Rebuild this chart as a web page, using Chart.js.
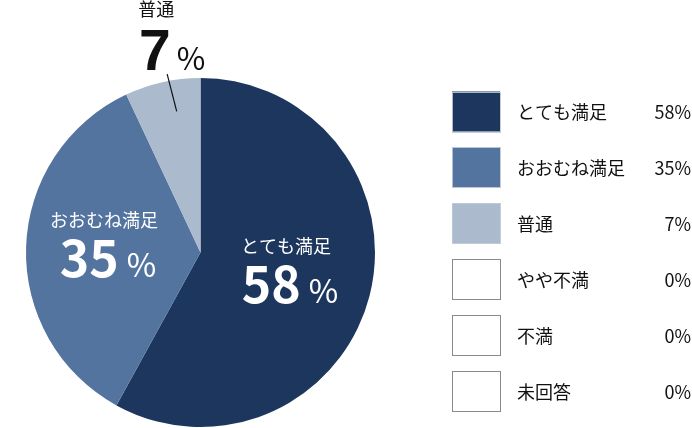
<!DOCTYPE html>
<html lang="ja">
<head>
<meta charset="utf-8">
<script src="https://cdn.jsdelivr.net/npm/chart.js@4"></script>
<style>
  html, body { margin: 0; padding: 0; background: #fff; }
  #wrap { width: 692px; height: 428px; }
</style>
</head>
<body>
<div id="wrap"><canvas id="pie" width="692" height="428"></canvas></div>
<script>
const CATEGORIES = ['とても満足', 'おおむね満足', '普通', 'やや不満', '不満', '未回答'];
const VALUES = [58, 35, 7, 0, 0, 0];
const COLORS = ['#1d365e', '#5474a0', '#abbacd', '#ffffff', '#ffffff', '#ffffff'];

const FONT = '"Noto Sans CJK JP", "Noto Sans", sans-serif';
const NUM_FONT_IN = `bold 50px ${FONT}`;
const NUM_FONT_OUT = `bold 57px "Liberation Sans", Arial, sans-serif`;

// ラベルの置き方 (スライス内 or 外)
const LABEL_STYLE = [
  { inside: true },
  { inside: true },
  { inside: false },
];

const polar = (arc, angle, f) => ({
  x: arc.x + Math.cos(angle) * arc.outerRadius * f,
  y: arc.y + Math.sin(angle) * arc.outerRadius * f,
});

const drawValueRow = (ctx, cx, baseY, value, numFont, pctSize, gap, color) => {
  const num = String(value);
  ctx.fillStyle = color;
  ctx.textBaseline = 'alphabetic';
  ctx.textAlign = 'left';
  ctx.font = numFont;
  const wNum = ctx.measureText(num).width;
  ctx.font = `${pctSize}px ${FONT}`;
  const wPct = ctx.measureText('%').width;
  const start = cx - (wNum + gap + wPct) / 2;
  ctx.font = numFont;
  ctx.fillText(num, start, baseY);
  ctx.font = `${pctSize}px ${FONT}`;
  ctx.fillText('%', start + wNum + gap, baseY);
};

const sliceLabels = {
  id: 'sliceLabels',
  afterDatasetsDraw(chart) {
    const ctx = chart.ctx;
    const arcs = chart.getDatasetMeta(0).data;
    ctx.save();
    arcs.forEach((arc, i) => {
      const v = VALUES[i];
      if (!v || !LABEL_STYLE[i]) return;
      const p = arc.getProps(['x', 'y', 'startAngle', 'endAngle', 'outerRadius'], true);
      const span = p.endAngle - p.startAngle;
      if (LABEL_STYLE[i].inside) {
        const c = polar(p, p.startAngle + span / 2, 0.53);
        ctx.fillStyle = '#fff';
        ctx.font = `18px ${FONT}`;
        ctx.textAlign = 'center';
        ctx.textBaseline = 'alphabetic';
        ctx.fillText(CATEGORIES[i], c.x - 4, c.y - 23);
        drawValueRow(ctx, c.x, c.y + 27, v, NUM_FONT_IN, 32, 8, '#fff');
      } else {
        const a = polar(p, p.startAngle + span * 0.62, 0.82);
        const b = polar(p, p.startAngle + span * 0.58, 1.04);
        ctx.strokeStyle = '#111';
        ctx.lineWidth = 1.2;
        ctx.beginPath();
        ctx.moveTo(a.x, a.y);
        ctx.lineTo(b.x, b.y);
        ctx.stroke();
        drawValueRow(ctx, b.x + 5, b.y - 4, v, NUM_FONT_OUT, 31, 6, '#111');
        ctx.fillStyle = '#111';
        ctx.font = `18px ${FONT}`;
        ctx.textAlign = 'center';
        ctx.fillText(CATEGORIES[i], b.x - 11, b.y - 58);
      }
    });
    ctx.restore();
  },
};

const sideLegend = {
  id: 'sideLegend',
  afterDraw(chart) {
    const ctx = chart.ctx;
    const boxX = 452, boxW = 48, boxH = 40, top = 111.5, step = 55.9;
    ctx.save();
    CATEGORIES.forEach((label, i) => {
      const cy = top + i * step;
      ctx.fillStyle = COLORS[i];
      ctx.fillRect(boxX, cy - boxH / 2, boxW, boxH);
      ctx.strokeStyle = VALUES[i] ? 'rgba(190,200,215,0.9)' : '#8a8a8a';
      ctx.lineWidth = 1;
      ctx.strokeRect(boxX + 0.5, Math.round(cy - boxH / 2) + 0.5, boxW, boxH);
      ctx.fillStyle = '#111';
      ctx.font = `18px ${FONT}`;
      ctx.textBaseline = 'middle';
      ctx.textAlign = 'left';
      ctx.fillText(label, 517, cy + 1);
      ctx.textAlign = 'right';
      ctx.fillText(VALUES[i] + '%', 691, cy + 1);
    });
    ctx.restore();
  },
};

new Chart(document.getElementById('pie'), {
  type: 'pie',
  data: {
    labels: CATEGORIES,
    datasets: [{
      data: VALUES,
      backgroundColor: COLORS,
      borderWidth: 0,
    }],
  },
  options: {
    responsive: false,
    animation: false,
    devicePixelRatio: 1,
    layout: { padding: { left: 26, right: 317, top: 78, bottom: 1 } },
    plugins: {
      legend: { display: false },
      tooltip: { enabled: false },
    },
  },
  plugins: [sliceLabels, sideLegend],
});
</script>
</body>
</html>
